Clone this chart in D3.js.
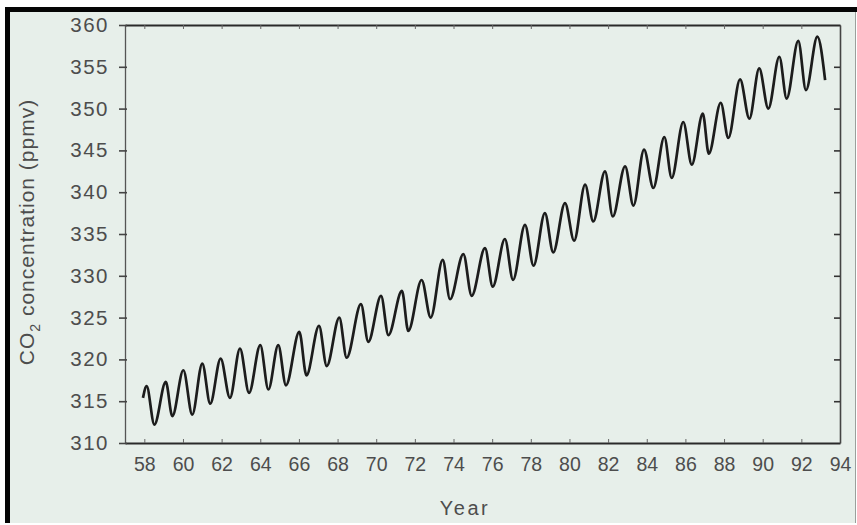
<!DOCTYPE html>
<html>
<head>
<meta charset="utf-8">
<script src="https://cdn.jsdelivr.net/npm/d3@7"></script>
<style>
  html, body { margin: 0; padding: 0; background: #ffffff; }
  svg { display: block; }
</style>
</head>
<body>
<script>
// Mauna Loa CO2 record: alternating seasonal maxima / minima (decimal year, ppmv)
const years = [
  57.93, 58.12, 58.52, 59.11, 59.45, 60.02, 60.48, 61.00, 61.41, 61.95,
  62.43, 62.95, 63.42, 64.00, 64.42, 64.93, 65.33, 66.02, 66.39, 67.04,
  67.44, 68.09, 68.47, 69.21, 69.59, 70.25, 70.63, 71.33, 71.66, 72.35,
  72.82, 73.44, 73.82, 74.51, 74.94, 75.63, 76.03, 76.66, 77.08, 77.70,
  78.14, 78.73, 79.16, 79.77, 80.24, 80.81, 81.23, 81.84, 82.24, 82.88,
  83.31, 83.86, 84.34, 84.91, 85.29, 85.89, 86.33, 86.90, 87.21, 87.83,
  88.22, 88.83, 89.31, 89.82, 90.29, 90.86, 91.24, 91.84, 92.24, 92.83,
  93.23
];
const co2 = [
  315.4, 316.8, 312.2, 317.3, 313.2, 318.7, 313.4, 319.5, 314.7, 320.1,
  315.4, 321.3, 316.0, 321.7, 316.4, 321.7, 316.9, 323.3, 318.1, 324.0,
  319.2, 325.0, 320.2, 326.6, 322.1, 327.6, 322.9, 328.2, 323.4, 329.5,
  325.0, 331.9, 327.2, 332.6, 327.6, 333.3, 328.7, 334.4, 329.5, 336.1,
  331.2, 337.5, 332.8, 338.7, 334.2, 340.9, 336.5, 342.5, 337.1, 343.1,
  338.4, 345.1, 340.5, 346.6, 341.7, 348.4, 343.3, 349.4, 344.6, 350.7,
  346.5, 353.5, 348.8, 354.8, 350.0, 356.2, 351.2, 358.1, 352.2, 358.6,
  353.4
];
const xTicks = [58, 60, 62, 64, 66, 68, 70, 72, 74, 76, 78, 80, 82, 84, 86, 88, 90, 92, 94];
const yTicks = [310, 315, 320, 325, 330, 335, 340, 345, 350, 355, 360];

const W = 857, H = 525;
const plot = { left: 125, right: 840, top: 25, bottom: 443 };
const ink = "#2a2a2a", textInk = "#4d4d4d";
const font = "'Liberation Sans', Arial, sans-serif";

const svg = d3.select("body").append("svg").attr("width", W).attr("height", H);

// paper
svg.append("rect").attr("x", 0).attr("y", 0).attr("width", W).attr("height", H).attr("fill", "#ffffff");
svg.append("rect").attr("x", 10).attr("y", 12).attr("width", W - 12).attr("height", H - 14)
  .attr("fill", "#e7efea");
// dark frame along top and left edges
svg.append("rect").attr("x", 5).attr("y", 7).attr("width", W - 5).attr("height", 5).attr("fill", "#050505");
svg.append("rect").attr("x", 5).attr("y", 7).attr("width", 5).attr("height", 516).attr("fill", "#050505");
svg.append("line").attr("x1", 855.5).attr("x2", 855.5).attr("y1", 12).attr("y2", 523)
  .attr("stroke", "#9aa09c").attr("stroke-width", 1);

const x = d3.scaleLinear().domain([57, 94]).range([plot.left, plot.right]);
const y = d3.scaleLinear().domain([310, 360]).range([plot.bottom, plot.top]);

// bottom axis (ticks point inward)
const gx = svg.append("g").attr("transform", `translate(0,${plot.bottom})`)
  .call(d3.axisBottom(x).tickValues(xTicks).tickSize(-4).tickPadding(14).tickSizeOuter(0));
gx.select(".domain").attr("stroke", ink).attr("stroke-width", 2.2);
gx.selectAll(".tick line").attr("stroke", "#666").attr("stroke-width", 1);
gx.selectAll(".tick text").attr("font-family", font).attr("font-size", 19.5)
  .attr("fill", textInk).attr("dy", "0.71em");

// top axis
const gt = svg.append("g").attr("transform", `translate(0,${plot.top})`)
  .call(d3.axisTop(x).tickValues(xTicks).tickSize(-4).tickFormat("").tickSizeOuter(0));
gt.select(".domain").attr("stroke", ink).attr("stroke-width", 2);
gt.selectAll(".tick line").attr("stroke", "#666").attr("stroke-width", 1);

// left axis (ticks straddle the line)
const gy = svg.append("g").attr("transform", `translate(${plot.left},0)`)
  .call(d3.axisLeft(y).tickValues(yTicks).tickSize(5).tickPadding(11).tickSizeOuter(0));
gy.select(".domain").attr("stroke", "#555").attr("stroke-width", 1.3);
gy.selectAll(".tick line").attr("stroke", "#444").attr("stroke-width", 1.6).attr("x2", -6).attr("x1", 2);
gy.selectAll(".tick text").attr("font-family", font).attr("font-size", 20.5)
  .attr("letter-spacing", 1.5).attr("fill", textInk);

// right axis (ticks point inward)
const gr = svg.append("g").attr("transform", `translate(${plot.right},0)`)
  .call(d3.axisRight(y).tickValues(yTicks.slice(1, -1)).tickSize(-6).tickFormat("").tickSizeOuter(0));
gr.select(".domain").attr("stroke", "#444").attr("stroke-width", 1.6);
gr.selectAll(".tick line").attr("stroke", "#333").attr("stroke-width", 1.6);

// CO2 curve
const pts = years.map((t, i) => [t, co2[i]]);
const line = d3.line().x(d => x(d[0])).y(d => y(d[1])).curve(d3.curveMonotoneX);
svg.append("path").datum(pts).attr("d", line)
  .attr("fill", "none").attr("stroke", "#1c1c1c").attr("stroke-width", 2.7)
  .attr("stroke-linejoin", "round");

// axis titles
svg.append("text").attr("x", 465).attr("y", 515).attr("text-anchor", "middle")
  .attr("font-family", font).attr("font-size", 20).attr("letter-spacing", 2.5)
  .attr("fill", textInk).text("Year");

const yt = svg.append("text")
  .attr("transform", `translate(34,232) rotate(-90)`)
  .attr("text-anchor", "middle").attr("font-family", font).attr("font-size", 21)
  .attr("letter-spacing", 1).attr("fill", textInk);
yt.append("tspan").text("CO");
yt.append("tspan").attr("font-size", 14).attr("dy", 6).text("2");
yt.append("tspan").attr("dy", -6).text(" concentration (ppmv)");
</script>
</body>
</html>
